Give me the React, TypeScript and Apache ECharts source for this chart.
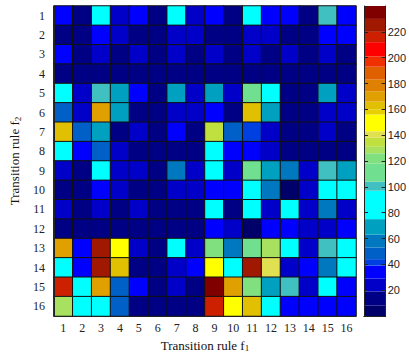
import React, { useEffect, useRef } from 'react';
import * as echarts from 'echarts';

const f1Labels = ['1', '2', '3', '4', '5', '6', '7', '8', '9', '10', '11', '12', '13', '14', '15', '16'];
const f2Labels = ['1', '2', '3', '4', '5', '6', '7', '8', '9', '10', '11', '12', '13', '14', '15', '16'];

// rows = transition rule f2 (1..16, top to bottom), columns = f1 (1..16)
const row1 = [35, 10, 85, 22, 33, 8, 85, 22, 35, 10, 88, 33, 33, 8, 100, 33];
const row2 = [8, 10, 33, 22, 10, 8, 22, 20, 10, 10, 22, 22, 10, 8, 33, 33];
const row3 = [33, 10, 20, 10, 22, 10, 22, 10, 20, 10, 20, 10, 22, 10, 20, 10];
const row4 = [9, 9, 9, 10, 9, 9, 10, 9, 9, 10, 9, 10, 9, 9, 12, 9];
const row5 = [85, 22, 100, 68, 33, 10, 68, 22, 68, 20, 115, 88, 10, 10, 68, 22];
const row6 = [50, 22, 168, 65, 10, 10, 22, 22, 33, 10, 162, 68, 10, 10, 22, 22];
const row7 = [162, 50, 68, 10, 22, 10, 33, 10, 135, 50, 42, 22, 10, 10, 22, 10];
const row8 = [85, 33, 50, 22, 10, 10, 10, 10, 85, 33, 33, 22, 10, 10, 10, 10];
const row9 = [22, 10, 85, 22, 22, 10, 60, 22, 85, 20, 115, 68, 58, 20, 100, 65];
const row10 = [10, 10, 33, 22, 10, 10, 22, 22, 33, 33, 85, 58, 5, 20, 88, 88];
const row11 = [22, 10, 20, 10, 22, 10, 10, 10, 85, 8, 85, 22, 85, 20, 58, 20];
const row12 = [8, 10, 10, 10, 10, 10, 10, 10, 33, 22, 6, 33, 33, 22, 20, 33];
const row13 = [168, 33, 225, 150, 22, 10, 85, 22, 120, 60, 112, 128, 85, 20, 100, 88];
const row14 = [85, 33, 225, 162, 10, 10, 22, 33, 150, 88, 225, 140, 20, 33, 60, 85];
const row15 = [216, 85, 168, 50, 33, 10, 22, 10, 236, 168, 120, 68, 100, 20, 88, 33];
const row16 = [128, 85, 85, 50, 10, 10, 10, 10, 216, 152, 162, 88, 33, 33, 33, 33];
const rows = [row1, row2, row3, row4, row5, row6, row7, row8, row9, row10, row11, row12, row13, row14, row15, row16];

// colour scale (colorbar levels)
const bandEdges = [0, 8, 19, 29, 39, 44, 53, 63, 75, 97, 104, 118, 126, 131, 138, 143, 156, 160, 166, 174, 183, 193, 201, 212, 220, 230, 240];
const bandColors = [
  '#00006a', '#000084', '#0000c8', '#0000ff', '#0040e0', '#0060c8', '#0078c0', '#00a0c0',
  '#00ffff', '#40c0c0', '#70e090', '#80e080', '#a8e060', '#c0e040', '#e0e050', '#ffff00',
  '#e8d000', '#e0c000', '#e0a000', '#e08000', '#e06000', '#f03000', '#ff0000', '#cc2000',
  '#a01800', '#800000'
];
const scaleMin = 0;
const scaleMax = 240;
const scaleStep = 20;

export default function App() {
  const ref = useRef<HTMLDivElement>(null);
  useEffect(() => {
    document.body.style.margin = '0';
    const chart = echarts.init(ref.current as HTMLDivElement, null, { renderer: 'svg' });
    const heatData: number[][] = [];
    rows.forEach((row, yi) => row.forEach((v, xi) => heatData.push([xi, yi, v])));
    const pieces = bandColors.map((c, i) => ({ gte: bandEdges[i], lt: bandEdges[i + 1], color: c }));
    const serif = 'Liberation Serif';
    const nameStyle = {
      fontFamily: serif,
      fontSize: 13,
      color: '#111',
      rich: { s: { fontFamily: serif, fontSize: 9, color: '#111', padding: [6, 0, 0, 0] } },
    };
    const barSeries = bandColors.map((c, i) => ({
      type: 'bar',
      xAxisIndex: 1,
      yAxisIndex: 1,
      stack: 'cb',
      barWidth: '100%',
      silent: true,
      data: [bandEdges[i + 1] - bandEdges[i]],
      itemStyle: { color: c },
    }));
    chart.setOption({
      animation: false,
      backgroundColor: '#fff',
      grid: [
        { left: 45, top: 6, width: 311, height: 310 },
        { left: 364, top: 6, width: 23, height: 310 },
      ],
      visualMap: { type: 'piecewise', show: false, seriesIndex: 0, dimension: 2, pieces },
      xAxis: [
        {
          gridIndex: 0,
          type: 'category',
          data: f1Labels,
          position: 'bottom',
          z: 10,
          axisLine: { show: true, lineStyle: { color: '#222', width: 1 } },
          axisTick: { show: false },
          splitLine: { show: false },
          axisLabel: { fontFamily: serif, fontSize: 12, color: '#222', margin: 6 },
          name: 'Transition rule f{s|1}',
          nameLocation: 'middle',
          nameGap: 21,
          nameTextStyle: nameStyle,
        },
        {
          gridIndex: 1,
          type: 'category',
          data: ['c'],
          position: 'bottom',
          z: 10,
          axisLine: { show: true, lineStyle: { color: '#222', width: 1 } },
          axisTick: { show: false },
          axisLabel: { show: false },
        },
        {
          gridIndex: 1,
          type: 'category',
          data: ['c'],
          position: 'top',
          z: 10,
          axisLine: { show: true, lineStyle: { color: '#222', width: 1 } },
          axisTick: { show: false },
          axisLabel: { show: false },
        },
      ],
      yAxis: [
        {
          gridIndex: 0,
          type: 'category',
          data: f2Labels,
          inverse: true,
          z: 10,
          axisLine: { show: true, lineStyle: { color: '#222', width: 1 } },
          axisTick: { show: false },
          splitLine: { show: false },
          axisLabel: { fontFamily: serif, fontSize: 12, color: '#222', margin: 9 },
          name: 'Transition rule f{s|2}',
          nameLocation: 'middle',
          nameGap: 27,
          nameRotate: 90,
          nameTextStyle: nameStyle,
        },
        {
          gridIndex: 1,
          type: 'value',
          min: scaleMin,
          max: scaleMax,
          interval: scaleStep,
          position: 'right',
          z: 10,
          axisLine: { show: true, lineStyle: { color: '#222', width: 1 } },
          axisTick: { show: true, inside: true, length: 4, lineStyle: { color: '#222' } },
          splitLine: { show: false },
          axisLabel: {
            fontFamily: 'Liberation Sans',
            fontSize: 11,
            color: '#222',
            margin: 2,
            showMinLabel: false,
            showMaxLabel: false,
          },
        },
        {
          gridIndex: 1,
          type: 'value',
          min: scaleMin,
          max: scaleMax,
          interval: scaleStep,
          position: 'left',
          z: 10,
          axisLine: { show: true, lineStyle: { color: '#222', width: 1 } },
          axisTick: { show: true, inside: true, length: 4, lineStyle: { color: '#222' } },
          splitLine: { show: false },
          axisLabel: { show: false },
        },
      ],
      series: [
        {
          type: 'heatmap',
          xAxisIndex: 0,
          yAxisIndex: 0,
          data: heatData,
          silent: true,
          itemStyle: { borderColor: '#111', borderWidth: 1 },
        },
        ...barSeries,
      ],
    });
    return () => chart.dispose();
  }, []);
  return <div ref={ref} style={{ width: 409, height: 358 }} />;
}
